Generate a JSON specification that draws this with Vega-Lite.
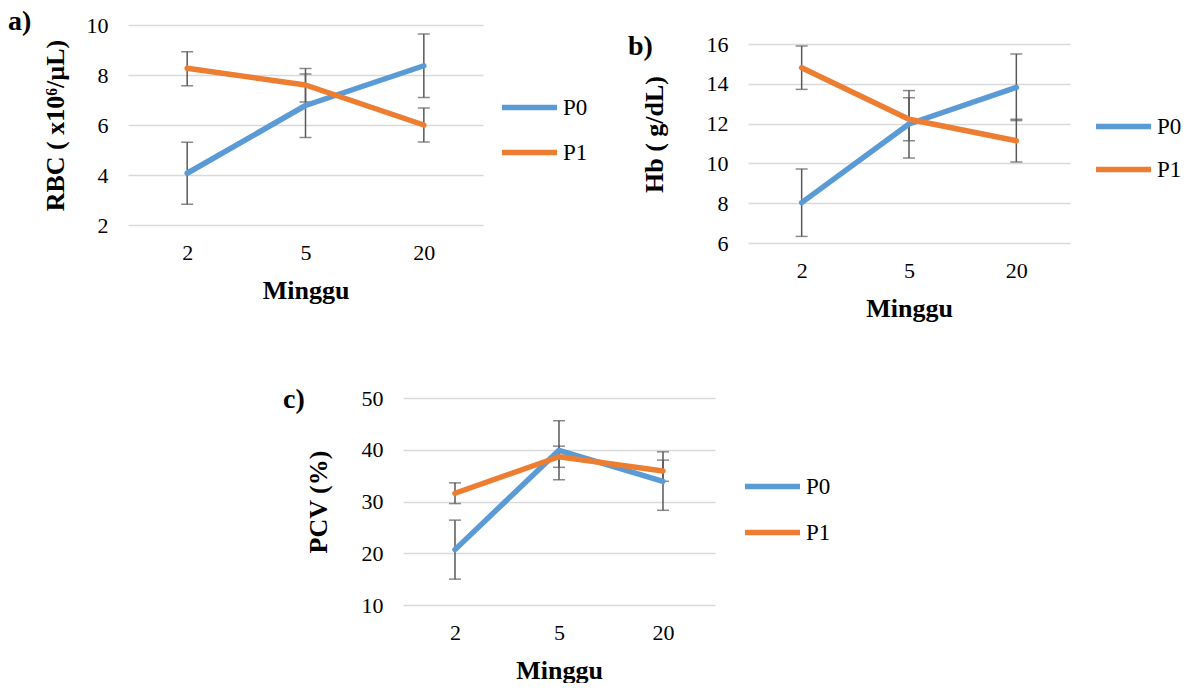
{
  "$schema": "https://vega.github.io/schema/vega-lite/v6.json",
  "background": "white",
  "padding": {"left": 8, "top": 8, "right": 0, "bottom": 0},
  "config": {
    "view": {"stroke": null},
    "font": "Liberation Serif",
    "axis": {
      "labelFont": "Liberation Serif", "labelFontSize": 22, "labelColor": "#000000", "labelOverlap": false,
      "titleFont": "Liberation Serif", "titleFontSize": 26, "titleFontWeight": "bold", "titleColor": "#000000",
      "domain": false, "ticks": false, "tickSize": 0,
      "gridColor": "#d9d9d9", "gridWidth": 1.5
    },
    "axisX": {"grid": false, "labelAngle": 0, "labelPadding": 17, "titlePadding": 14},
    "axisY": {"grid": true, "labelPadding": 20},
    "legend": {
      "orient": "none", "title": null,
      "labelFont": "Liberation Serif", "labelFontSize": 23, "labelColor": "#000000",
      "symbolType": "stroke", "symbolSize": 3025, "symbolStrokeWidth": 5.5,
      "labelOffset": 3, "rowPadding": 2
    },
    "title": {"fontSize": 28, "fontWeight": "bold", "font": "Liberation Serif", "color": "#000000", "anchor": "start", "frame": "group", "dx": -120}
  },
  "data": {"values": [
    {"panel": "a", "week": 2, "group": "P0", "mean": 4.07, "lo": 2.83, "hi": 5.31},
    {"panel": "a", "week": 5, "group": "P0", "mean": 6.78, "lo": 5.5, "hi": 8.04},
    {"panel": "a", "week": 20, "group": "P0", "mean": 8.37, "lo": 7.1, "hi": 9.64},
    {"panel": "a", "week": 2, "group": "P1", "mean": 8.27, "lo": 7.57, "hi": 8.93},
    {"panel": "a", "week": 5, "group": "P1", "mean": 7.6, "lo": 6.92, "hi": 8.26},
    {"panel": "a", "week": 20, "group": "P1", "mean": 6.0, "lo": 5.32, "hi": 6.68},
    {"panel": "b", "week": 2, "group": "P0", "mean": 8.03, "lo": 6.33, "hi": 9.72},
    {"panel": "b", "week": 5, "group": "P0", "mean": 11.98, "lo": 10.27, "hi": 13.66},
    {"panel": "b", "week": 20, "group": "P0", "mean": 13.82, "lo": 12.15, "hi": 15.5},
    {"panel": "b", "week": 2, "group": "P1", "mean": 14.81, "lo": 13.72, "hi": 15.9},
    {"panel": "b", "week": 5, "group": "P1", "mean": 12.22, "lo": 11.14, "hi": 13.3},
    {"panel": "b", "week": 20, "group": "P1", "mean": 11.14, "lo": 10.07, "hi": 12.22},
    {"panel": "c", "week": 2, "group": "P0", "mean": 20.7, "lo": 15.0, "hi": 26.4},
    {"panel": "c", "week": 5, "group": "P0", "mean": 39.9, "lo": 34.2, "hi": 45.6},
    {"panel": "c", "week": 20, "group": "P0", "mean": 33.9, "lo": 28.3, "hi": 39.6},
    {"panel": "c", "week": 2, "group": "P1", "mean": 31.6, "lo": 29.6, "hi": 33.6},
    {"panel": "c", "week": 5, "group": "P1", "mean": 38.65, "lo": 36.6, "hi": 40.7},
    {"panel": "c", "week": 20, "group": "P1", "mean": 35.9, "lo": 33.9, "hi": 38.0}
  ]},
  "spacing": 65,
  "bounds": "full",
  "resolve": {"scale": {"color": "independent", "x": "independent", "y": "independent"}, "legend": {"color": "independent"}},
  "vconcat": [
    {
      "spacing": 265,
      "bounds": "flush",
      "resolve": {"scale": {"color": "independent", "x": "independent", "y": "independent"}, "legend": {"color": "independent"}},
      "hconcat": [
        {
          "width": 355, "height": 200,
          "title": {"text": "a)", "offset": 0, "dy": 22},
          "transform": [{"filter": "datum.panel === 'a'"}],
          "encoding": {
            "x": {"field": "week", "type": "ordinal", "scale": {"type": "point", "padding": 0.5}, "axis": {"title": "Minggu"}}
          },
          "layer": [
            {"mark": {"type": "rule", "color": "#595959", "strokeWidth": 1.5},
             "encoding": {"y": {"field": "lo", "type": "quantitative", "title": "RBC ( x10⁶/µL)", "scale": {"domain": [2, 10], "nice": false, "zero": false}, "axis": {"values": [2, 4, 6, 8, 10], "titlePadding": 18}}, "y2": {"field": "hi"}}},
            {"mark": {"type": "tick", "color": "#595959", "thickness": 1.5, "size": 12},
             "encoding": {"y": {"field": "lo", "type": "quantitative", "title": "RBC ( x10⁶/µL)"}}},
            {"mark": {"type": "tick", "color": "#595959", "thickness": 1.5, "size": 12},
             "encoding": {"y": {"field": "hi", "type": "quantitative", "title": "RBC ( x10⁶/µL)"}}},
            {"mark": {"type": "line", "strokeWidth": 5.5, "strokeCap": "round", "strokeJoin": "round"},
             "encoding": {
               "y": {"field": "mean", "type": "quantitative", "title": "RBC ( x10⁶/µL)"},
               "color": {"field": "group", "type": "nominal", "scale": {"domain": ["P0", "P1"], "range": ["#5B9BD5", "#ED7D31"]}, "legend": {"legendX": 371, "legendY": 52}}
             }}
          ]
        },
        {
          "width": 322, "height": 218,
          "title": {"text": "b)", "offset": 0, "dy": 36},
          "transform": [{"filter": "datum.panel === 'b'"}],
          "encoding": {
            "x": {"field": "week", "type": "ordinal", "scale": {"type": "point", "padding": 0.5}, "axis": {"title": "Minggu"}}
          },
          "layer": [
            {"mark": {"type": "rule", "color": "#595959", "strokeWidth": 1.5},
             "encoding": {"y": {"field": "lo", "type": "quantitative", "title": "Hb ( g/dL)", "scale": {"domain": [6, 16.955], "nice": false, "zero": false}, "axis": {"values": [6, 8, 10, 12, 14, 16], "titlePadding": 39}}, "y2": {"field": "hi"}}},
            {"mark": {"type": "tick", "color": "#595959", "thickness": 1.5, "size": 12},
             "encoding": {"y": {"field": "lo", "type": "quantitative", "title": "Hb ( g/dL)"}}},
            {"mark": {"type": "tick", "color": "#595959", "thickness": 1.5, "size": 12},
             "encoding": {"y": {"field": "hi", "type": "quantitative", "title": "Hb ( g/dL)"}}},
            {"mark": {"type": "line", "strokeWidth": 5.5, "strokeCap": "round", "strokeJoin": "round"},
             "encoding": {
               "y": {"field": "mean", "type": "quantitative", "title": "Hb ( g/dL)"},
               "color": {"field": "group", "type": "nominal", "scale": {"domain": ["P0", "P1"], "range": ["#5B9BD5", "#ED7D31"]}, "legend": {"legendX": 345, "legendY": 71, "rowPadding": 0}}
             }}
          ]
        }
      ]
    },
    {
      "spacing": 0,
      "bounds": "flush",
      "resolve": {"scale": {"color": "independent"}, "legend": {"color": "independent"}},
      "hconcat": [
        {"width": 275, "height": 1, "data": {"values": [{"s": 0}]}, "mark": {"type": "text", "text": ""}, "encoding": {}},
        {
          "width": 312, "height": 207,
          "title": {"text": "c)", "offset": 0, "dy": 27},
          "transform": [{"filter": "datum.panel === 'c'"}],
          "encoding": {
            "x": {"field": "week", "type": "ordinal", "scale": {"type": "point", "padding": 0.5}, "axis": {"title": "Minggu"}}
          },
          "layer": [
            {"mark": {"type": "rule", "color": "#595959", "strokeWidth": 1.5},
             "encoding": {"y": {"field": "lo", "type": "quantitative", "title": "PCV (%)", "scale": {"domain": [10, 50], "nice": false, "zero": false}, "axis": {"values": [10, 20, 30, 40, 50], "titlePadding": 30}}, "y2": {"field": "hi"}}},
            {"mark": {"type": "tick", "color": "#595959", "thickness": 1.5, "size": 12},
             "encoding": {"y": {"field": "lo", "type": "quantitative", "title": "PCV (%)"}}},
            {"mark": {"type": "tick", "color": "#595959", "thickness": 1.5, "size": 12},
             "encoding": {"y": {"field": "hi", "type": "quantitative", "title": "PCV (%)"}}},
            {"mark": {"type": "line", "strokeWidth": 5.5, "strokeCap": "round", "strokeJoin": "round"},
             "encoding": {
               "y": {"field": "mean", "type": "quantitative", "title": "PCV (%)"},
               "color": {"field": "group", "type": "nominal", "scale": {"domain": ["P0", "P1"], "range": ["#5B9BD5", "#ED7D31"]}, "legend": {"legendX": 339, "legendY": 58, "rowPadding": 3}}
             }}
          ]
        }
      ]
    }
  ]
}
